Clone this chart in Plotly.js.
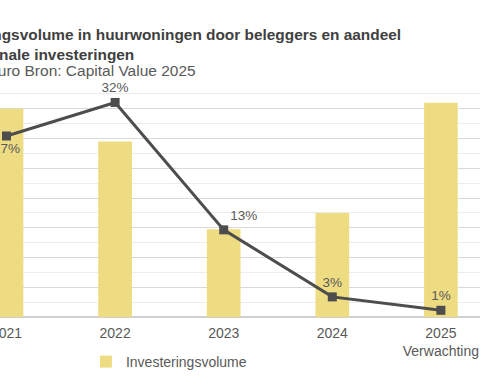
<!DOCTYPE html>
<html>
<head>
<meta charset="utf-8">
<script src="https://cdn.plot.ly/plotly-3.0.1.min.js"></script>
<style>
html,body{margin:0;padding:0;overflow:hidden;background:#fff;}
#chart{width:480px;height:384px;}
</style>
</head>
<body>
<div id="chart"></div>
<script>
// Data
const years = ["2021", "2022", "2023", "2024", "2025<br>Verwachting"];
const volume = [7.0, 5.9, 2.95, 3.5, 7.2];           // investeringsvolume (mld. euro)
const shareIntl = [27, 32, 13, 3, 1];                  // aandeel internationale investeringen (%)
const shareLabels = ["27%", "32%", "13%", "3%", "1%"];

const titleLine1 = "Investeringsvolume in huurwoningen door beleggers en aandeel";
const titleLine2 = "internationale investeringen";
const subtitle = "In miljard euro Bron: Capital Value 2025";

const textColor = "#595959";
const fontFam = "Liberation Sans, Arial, sans-serif";

const traces = [
  {
    type: "bar",
    x: years,
    y: volume,
    name: "Investeringsvolume",
    marker: {color: "#EEDC82"},
    width: 0.31,
    hoverinfo: "skip"
  },
  {
    type: "scatter",
    mode: "lines+markers+text",
    x: years,
    y: shareIntl,
    yaxis: "y2",
    name: "Aandeel internationale investeringen",
    showlegend: false,
    line: {color: "#4D4D4D", width: 3},
    marker: {symbol: "square", size: 9, color: "#4D4D4D"},
    text: shareLabels,
    textposition: ["bottom center", "top center", "top right", "top center", "top center"],
    textfont: {size: 13.5, color: textColor, family: fontFam},
    cliponaxis: false,
    hoverinfo: "skip"
  }
];

const layout = {
  width: 480,
  height: 384,
  margin: {l: 0, r: 0, t: 78.5, b: 67},
  paper_bgcolor: "#ffffff",
  plot_bgcolor: "#ffffff",
  font: {family: fontFam, color: textColor, size: 14},
  showlegend: true,
  legend: {
    orientation: "h",
    x: 0.179, xanchor: "left",
    y: -0.122, yanchor: "top",
    font: {size: 14, color: textColor, family: fontFam},
    bgcolor: "rgba(0,0,0,0)"
  },
  xaxis: {
    type: "category",
    range: [-0.06, 4.36],
    showgrid: false,
    zeroline: false,
    showline: false,
    ticks: "",
    ticklabelstandoff: 6,
    tickfont: {size: 14, color: textColor, family: fontFam},
    fixedrange: true
  },
  yaxis: {
    range: [0, 8],
    dtick: 1,
    showticklabels: false,
    showgrid: true,
    gridcolor: "#D9D9D9",
    gridwidth: 1,
    zeroline: true,
    zerolinecolor: "#CFCFCF",
    zerolinewidth: 1.5,
    minor: {dtick: 0.5, showgrid: true, gridcolor: "#ECECEC", gridwidth: 1},
    fixedrange: true
  },
  yaxis2: {
    overlaying: "y",
    side: "right",
    range: [0, 35.5],
    showgrid: false,
    zeroline: false,
    showticklabels: false,
    fixedrange: true
  },
  annotations: [
    {
      xref: "paper", yref: "paper",
      x: -0.153, y: 1.0, xanchor: "left", yanchor: "bottom",
      yshift: 14,
      align: "left",
      showarrow: false,
      text: "<b>" + titleLine1 + "<br>" + titleLine2 + "</b>",
      font: {size: 15.4, color: "#404040", family: fontFam}
    },
    {
      xref: "paper", yref: "paper",
      x: -0.167, y: 1.0, xanchor: "left", yanchor: "bottom",
      yshift: -2,
      align: "left",
      showarrow: false,
      text: subtitle,
      font: {size: 15.5, color: textColor, family: fontFam}
    }
  ]
};

Plotly.newPlot("chart", traces, layout, {displayModeBar: false, staticPlot: true});
</script>
</body>
</html>
